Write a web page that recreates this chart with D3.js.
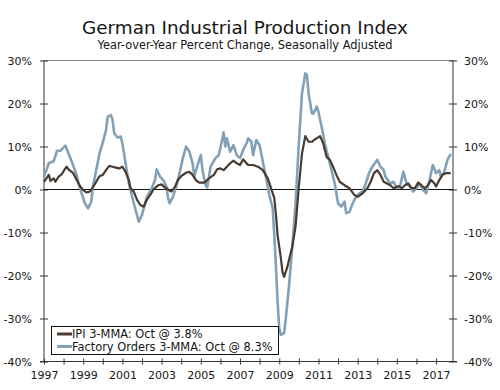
<!DOCTYPE html>
<html>
<head>
<meta charset="utf-8">
<script src="https://cdn.jsdelivr.net/npm/d3@7"></script>
<style>
  body { margin: 0; background: #fff; }
  svg text { font-family: "DejaVu Sans", Verdana, sans-serif; fill: #161616; }
</style>
</head>
<body>
<div id="chart"></div>
<script>
// IPI 3-MMA, year-over-year % change
var ipi = [
  ["1997-01", 1.8], ["1997-04", 3.4], ["1997-05", 2.0], ["1997-07", 2.6], ["1997-08", 1.8],
  ["1997-10", 3.0], ["1997-12", 3.6], ["1998-02", 4.9], ["1998-03", 5.3], ["1998-04", 4.7],
  ["1998-07", 3.8], ["1998-09", 2.2], ["1998-11", 0.8], ["1999-01", -0.1], ["1999-03", -0.7],
  ["1999-05", -0.5], ["1999-07", 0.5], ["1999-09", 1.8], ["1999-11", 3.1], ["2000-01", 3.4],
  ["2000-03", 4.5], ["2000-05", 5.5], ["2000-07", 5.3], ["2000-09", 5.1], ["2000-11", 4.9],
  ["2001-01", 5.3], ["2001-03", 4.1], ["2001-05", 2.2], ["2001-06", 0.3], ["2001-08", -0.5],
  ["2001-10", -2.4], ["2001-12", -3.6], ["2002-02", -4.0], ["2002-04", -2.4], ["2002-06", -1.3],
  ["2002-08", 0.0], ["2002-11", 1.0], ["2003-01", 1.2], ["2003-03", 0.5], ["2003-05", 0.0],
  ["2003-07", -0.5], ["2003-09", 0.5], ["2003-11", 2.2], ["2004-01", 3.1], ["2004-04", 3.9],
  ["2004-06", 4.1], ["2004-08", 3.4], ["2004-10", 2.2], ["2004-12", 1.6], ["2005-03", 1.6],
  ["2005-04", 1.8], ["2005-06", 2.6], ["2005-09", 3.4], ["2005-11", 4.7], ["2006-01", 4.9],
  ["2006-03", 4.5], ["2006-05", 5.3], ["2006-07", 6.1], ["2006-09", 6.7], ["2006-11", 6.1],
  ["2007-01", 5.7], ["2007-03", 7.0], ["2007-06", 5.7], ["2007-09", 5.7], ["2007-12", 5.3],
  ["2008-03", 4.5], ["2008-06", 2.6], ["2008-08", 0.3], ["2008-10", -2.0], ["2008-11", -5.9],
  ["2008-12", -10.6], ["2009-02", -16.0], ["2009-03", -19.1], ["2009-04", -20.3], ["2009-06", -18.0],
  ["2009-07", -16.4], ["2009-09", -13.3], ["2009-11", -8.6], ["2010-01", 0.7], ["2010-03", 8.4],
  ["2010-05", 12.4], ["2010-07", 11.1], ["2010-09", 11.1], ["2010-11", 11.7], ["2011-02", 12.4],
  ["2011-04", 10.7], ["2011-06", 7.6], ["2011-08", 6.9], ["2011-10", 5.3], ["2011-12", 3.4],
  ["2012-02", 1.8], ["2012-05", 1.0], ["2012-08", 0.3], ["2012-11", -1.3], ["2013-01", -1.7],
  ["2013-04", -0.9], ["2013-07", 0.3], ["2013-09", 1.8], ["2013-11", 3.8], ["2014-01", 4.5],
  ["2014-03", 3.4], ["2014-05", 1.8], ["2014-09", 1.0], ["2014-11", 0.3], ["2015-02", 0.8],
  ["2015-04", 0.3], ["2015-06", 1.0], ["2015-08", 1.4], ["2015-10", 0.3], ["2015-12", 0.3],
  ["2016-02", 1.6], ["2016-04", 1.0], ["2016-06", 0.3], ["2016-08", 1.0], ["2016-10", 2.2],
  ["2016-12", 1.4], ["2017-01", 0.7], ["2017-03", 2.2], ["2017-05", 3.4], ["2017-07", 3.8],
  ["2017-10", 3.8]
];

// Factory Orders 3-MMA, year-over-year % change
var orders = [
  ["1997-01", 3.0], ["1997-04", 6.1], ["1997-07", 6.6], ["1997-09", 9.0], ["1997-11", 9.0],
  ["1998-02", 10.2], ["1998-03", 9.4], ["1998-06", 6.5], ["1998-09", 3.4], ["1998-11", 0.3],
  ["1999-02", -3.2], ["1999-04", -4.4], ["1999-06", -2.8], ["1999-07", 0.7], ["1999-09", 4.5],
  ["1999-11", 8.4], ["2000-01", 10.9], ["2000-03", 13.8], ["2000-04", 16.9], ["2000-06", 17.3],
  ["2000-07", 16.2], ["2000-08", 13.1], ["2000-10", 12.1], ["2000-12", 12.3], ["2001-01", 10.7],
  ["2001-03", 6.1], ["2001-05", 1.4], ["2001-08", -3.2], ["2001-11", -7.5], ["2002-01", -5.9],
  ["2002-04", -1.7], ["2002-07", 0.3], ["2002-09", 2.2], ["2002-10", 4.7], ["2002-12", 3.0],
  ["2003-02", 2.2], ["2003-04", 0.7], ["2003-05", -2.0], ["2003-06", -3.2], ["2003-08", -1.7],
  ["2003-10", 0.7], ["2003-12", 3.8], ["2004-02", 7.3], ["2004-04", 10.0], ["2004-06", 8.8],
  ["2004-08", 6.1], ["2004-09", 3.0], ["2004-11", 5.7], ["2005-01", 8.0], ["2005-02", 4.5],
  ["2005-04", 1.0], ["2005-05", 0.5], ["2005-07", 5.3], ["2005-10", 7.3], ["2005-12", 8.0],
  ["2006-02", 11.5], ["2006-03", 13.3], ["2006-04", 10.0], ["2006-05", 11.9], ["2006-07", 8.8],
  ["2006-09", 10.3], ["2006-11", 8.0], ["2007-01", 7.3], ["2007-03", 9.2], ["2007-05", 10.7],
  ["2007-06", 11.9], ["2007-08", 11.1], ["2007-09", 8.0], ["2007-11", 11.5], ["2008-01", 10.3],
  ["2008-03", 6.5], ["2008-05", 2.6], ["2008-07", -1.3], ["2008-09", -4.4], ["2008-10", -10.6],
  ["2008-11", -18.3], ["2008-12", -26.1], ["2009-01", -32.3], ["2009-02", -33.8], ["2009-04", -33.4],
  ["2009-05", -30.3], ["2009-07", -22.6], ["2009-09", -13.3], ["2009-11", -3.2], ["2010-01", 10.7],
  ["2010-03", 22.4], ["2010-05", 27.0], ["2010-06", 26.6], ["2010-07", 22.4], ["2010-09", 17.7],
  ["2010-10", 17.7], ["2010-12", 19.3], ["2011-01", 18.1], ["2011-03", 14.6], ["2011-05", 10.7],
  ["2011-07", 7.6], ["2011-09", 4.5], ["2011-11", 1.4], ["2012-01", -3.2], ["2012-03", -4.0],
  ["2012-05", -2.8], ["2012-06", -5.5], ["2012-08", -5.2], ["2012-10", -3.2], ["2012-12", -1.7],
  ["2013-02", -0.9], ["2013-04", -0.5], ["2013-06", 1.4], ["2013-08", 3.8], ["2013-10", 5.3],
  ["2014-01", 6.9], ["2014-03", 5.3], ["2014-05", 4.5], ["2014-06", 3.0], ["2014-09", 1.4],
  ["2014-11", 1.8], ["2015-01", 0.3], ["2015-03", 0.7], ["2015-05", 4.1], ["2015-07", 1.4],
  ["2015-09", 0.7], ["2015-11", -0.5], ["2016-01", 0.3], ["2016-03", 1.4], ["2016-05", -0.1],
  ["2016-07", -0.9], ["2016-09", 2.2], ["2016-11", 5.7], ["2017-01", 3.8], ["2017-03", 4.5],
  ["2017-04", 3.0], ["2017-06", 4.1], ["2017-08", 6.9], ["2017-10", 8.3]
];

var yTicks = [30, 20, 10, 0, -10, -20, -30, -40];
var yearTicks = d3.range(1997, 2018);
var yearLabels = [1997, 1999, 2001, 2003, 2005, 2007, 2009, 2011, 2013, 2015, 2017];
var legendLabels = ["IPI 3-MMA: Oct @ 3.8%", "Factory Orders 3-MMA: Oct @ 8.3%"];

(function () {
var width = 500, height = 390;
var pLeft = 44, pRight = 453, pTop = 60.5, pBottom = 361.5;
var ipiColor = "#4a3b30", ordersColor = "#83a1b6";

var parse = d3.timeParse("%Y-%m");

var x = d3.scaleTime()
    .domain([new Date(1997, 0, 1), new Date(2017, 10, 12)])
    .range([pLeft, pRight]);

var y = d3.scaleLinear()
    .domain([-40, 30])
    .range([pBottom, pTop]);

var svg = d3.select("#chart").append("svg")
    .attr("width", width)
    .attr("height", height);

// titles
svg.append("text")
    .attr("x", 245).attr("y", 34)
    .attr("text-anchor", "middle")
    .style("font-size", "18.4px")
    .text("German Industrial Production Index");

svg.append("text")
    .attr("x", 245).attr("y", 49)
    .attr("text-anchor", "middle")
    .style("font-size", "11.4px")
    .text("Year-over-Year Percent Change, Seasonally Adjusted");

// top border
svg.append("line")
    .attr("x1", pLeft).attr("x2", pRight)
    .attr("y1", pTop).attr("y2", pTop)
    .style("stroke", "#8a8a8a");

// left and right axes
var yAxisL = svg.append("g")
    .attr("transform", "translate(" + pLeft + ",0)")
    .call(d3.axisLeft(y).tickValues(yTicks).tickSize(4).tickPadding(8)
        .tickFormat(function (d) { return d + "%"; }));

var yAxisR = svg.append("g")
    .attr("transform", "translate(" + pRight + ",0)")
    .call(d3.axisRight(y).tickValues(yTicks).tickSize(4).tickPadding(7)
        .tickFormat(function (d) { return d + "%"; }));

[yAxisL, yAxisR].forEach(function (g) {
    g.select(".domain").attr("d", "M0," + pTop + "V" + pBottom).style("stroke", "#333");
    g.selectAll(".tick line").attr("x1", -4).attr("x2", 4).style("stroke", "#333");
    g.selectAll(".tick text").style("font-size", "11px").attr("font-family", null);
});

// bottom axis
var xAxis = svg.append("g")
    .attr("transform", "translate(0," + pBottom + ")")
    .call(d3.axisBottom(x)
        .tickValues(yearTicks.map(function (d) { return new Date(d, 0, 1); }))
        .tickSize(3).tickPadding(7)
        .tickFormat(function (d) {
            var yr = d.getFullYear();
            return yearLabels.indexOf(yr) >= 0 ? yr : "";
        }));

xAxis.select(".domain").attr("d", "M" + (pLeft - 4) + ",0H" + (pRight + 4)).style("stroke", "#333");
xAxis.selectAll(".tick line").attr("y1", -3).attr("y2", 3).style("stroke", "#333");
xAxis.selectAll(".tick text").style("font-size", "11px").attr("font-family", null);

// zero line
svg.append("line")
    .attr("x1", pLeft).attr("x2", pRight)
    .attr("y1", y(0)).attr("y2", y(0))
    .style("stroke", "#111");

var line = d3.line()
    .x(function (d) { return x(parse(d[0])); })
    .y(function (d) { return y(d[1]); });

svg.append("path")
    .datum(orders)
    .attr("d", line)
    .style("fill", "none")
    .style("stroke", ordersColor)
    .style("stroke-width", 2.6)
    .style("stroke-linejoin", "round");

svg.append("path")
    .datum(ipi)
    .attr("d", line)
    .style("fill", "none")
    .style("stroke", ipiColor)
    .style("stroke-width", 2.2)
    .style("stroke-linejoin", "round");

// legend
var legend = svg.append("g");
legend.append("rect")
    .attr("x", 51.5).attr("y", 326.5)
    .attr("width", 227).attr("height", 28)
    .style("fill", "#fff")
    .style("stroke", "#111");

var legColors = [ipiColor, ordersColor];
legendLabels.forEach(function (t, i) {
    var ly = 334 + i * 12.5;
    legend.append("line")
        .attr("x1", 57).attr("x2", 72)
        .attr("y1", ly).attr("y2", ly)
        .style("stroke", legColors[i])
        .style("stroke-width", 3);
    legend.append("text")
        .attr("x", 72).attr("y", ly + 4)
        .style("font-size", "11.4px")
        .text(t);
});
})();
</script>
</body>
</html>
